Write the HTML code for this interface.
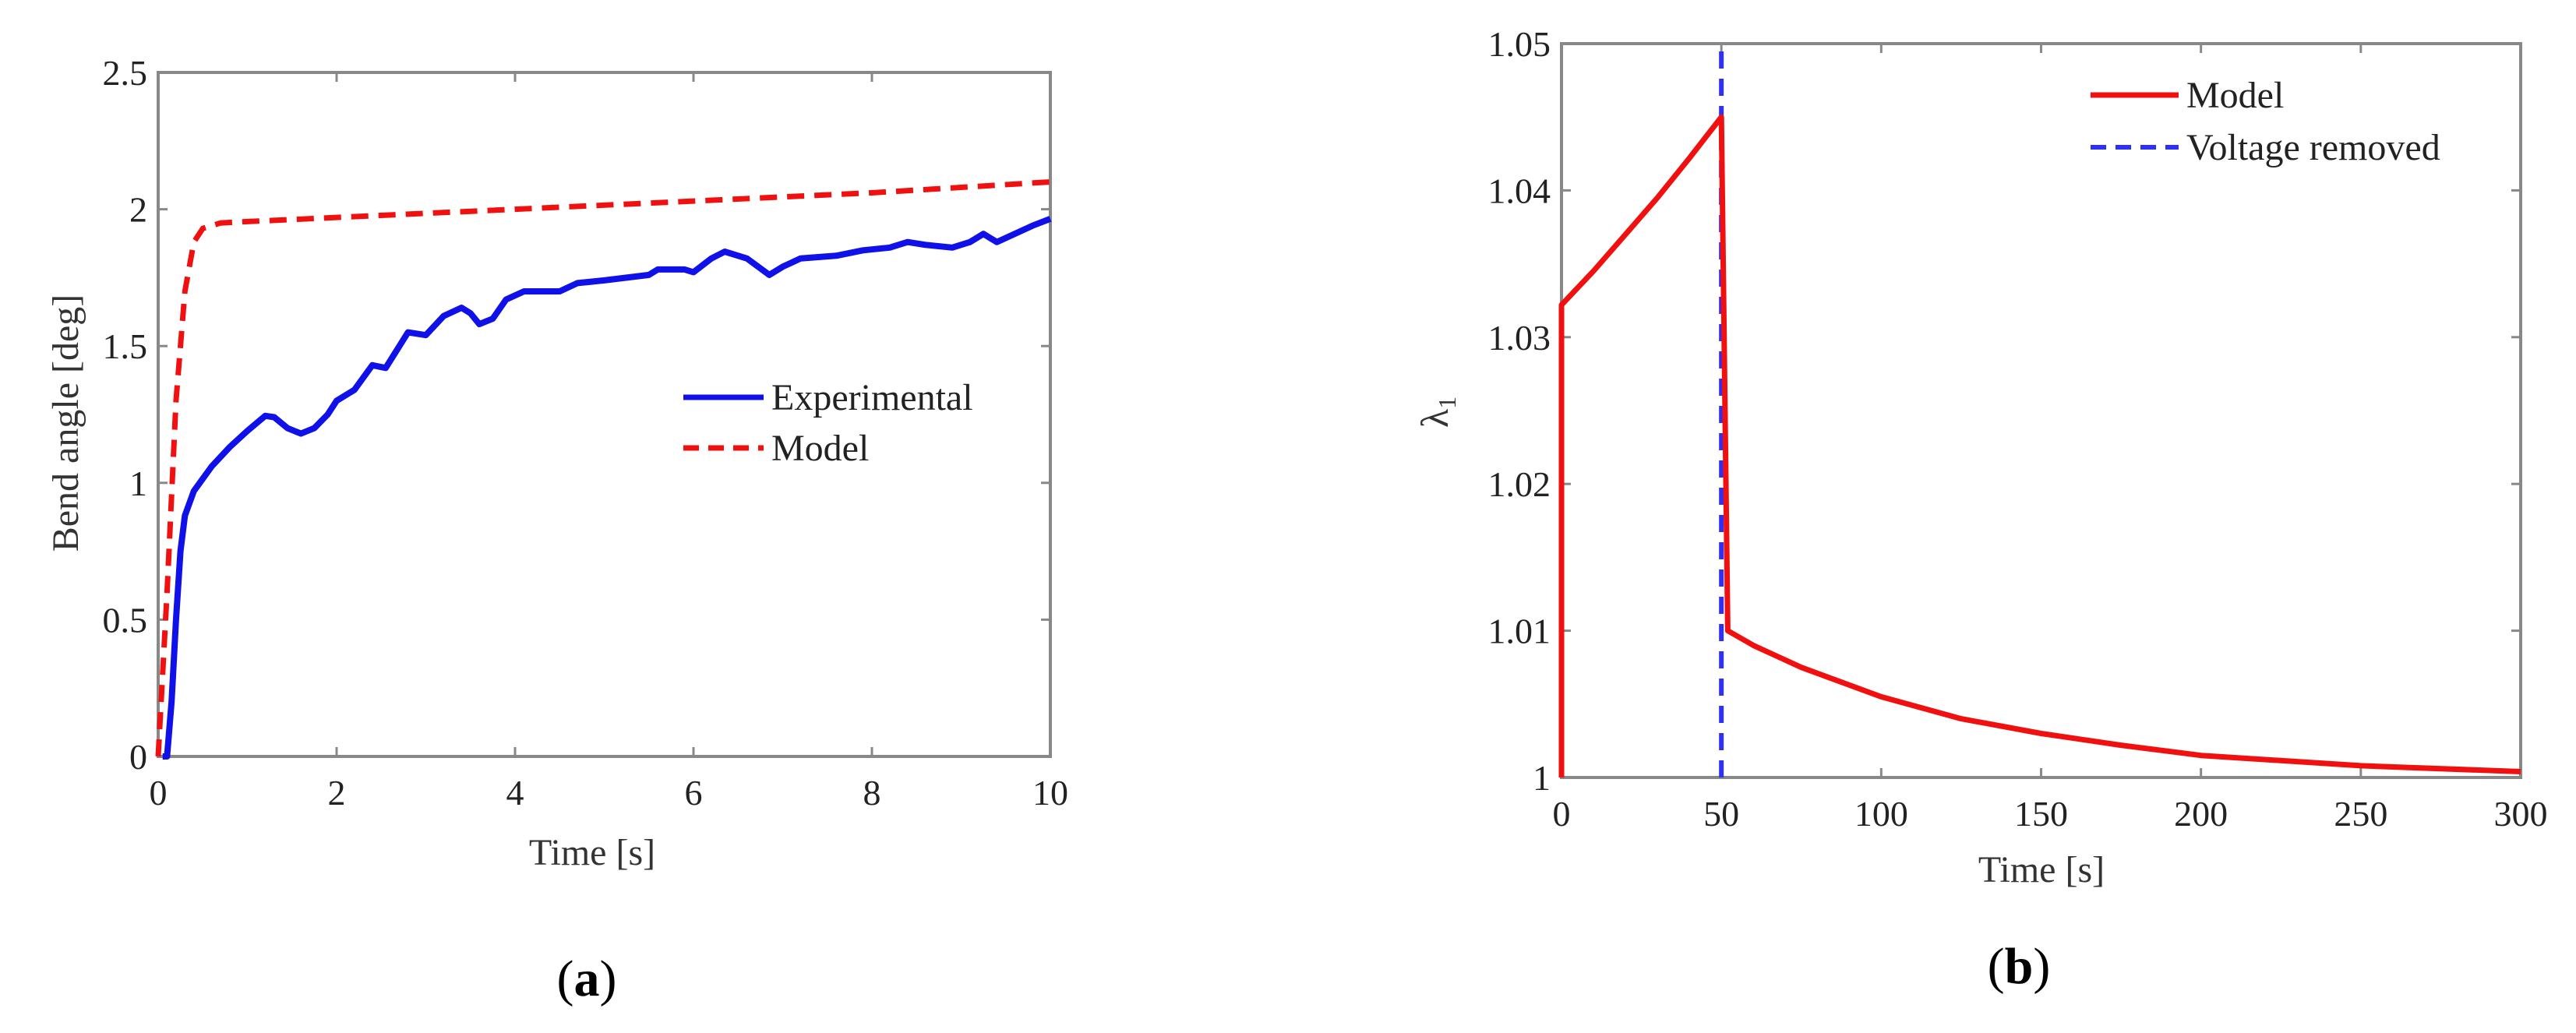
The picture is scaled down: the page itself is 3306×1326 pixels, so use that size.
<!DOCTYPE html>
<html><head><meta charset="utf-8"><style>
html,body{margin:0;padding:0;background:#fff;}
svg{display:block;font-family:"Liberation Serif",serif;}
</style></head><body>
<svg id="fig" width="3306" height="1326" viewBox="0 0 3306 1326"></svg>
<script>
const aExpX=[0.05,0.1,0.15,0.2,0.25,0.3,0.4,0.6,0.8,1.0,1.2,1.3,1.45,1.6,1.75,1.9,2.0,2.2,2.4,2.55,2.8,3.0,3.2,3.4,3.5,3.6,3.75,3.9,4.1,4.5,4.7,5.0,5.5,5.6,5.9,6.0,6.2,6.35,6.6,6.85,7.0,7.2,7.6,7.9,8.2,8.4,8.6,8.9,9.1,9.25,9.4,9.6,9.8,10];
const aExpY=[0,0,0.2,0.5,0.75,0.88,0.97,1.06,1.13,1.19,1.245,1.24,1.2,1.18,1.2,1.25,1.3,1.34,1.43,1.42,1.55,1.54,1.61,1.64,1.62,1.58,1.6,1.67,1.7,1.7,1.73,1.74,1.76,1.78,1.78,1.77,1.82,1.845,1.82,1.76,1.79,1.82,1.83,1.85,1.86,1.88,1.87,1.86,1.88,1.91,1.88,1.91,1.94,1.965];
const aModX=[0,0.1,0.2,0.3,0.4,0.5,0.7,1,2,4,6,8,10];
const aModY=[0,0.6,1.3,1.7,1.88,1.93,1.95,1.955,1.97,2.0,2.03,2.06,2.1];
const aXTicks=[0,2,4,6,8,10];
const aYTicks=[0,0.5,1,1.5,2,2.5];
const aYTickLabels=["0","0.5","1","1.5","2","2.5"];
const bModX=[0,0,10,20,30,40,50,52,60,75,100,125,150,175,200,250,300];
const bModY=[1,1.0322,1.0345,1.037,1.0395,1.0422,1.045,1.010,1.009,1.0075,1.0055,1.004,1.003,1.0022,1.0015,1.0008,1.0004];
const bVoltX=[50];
const bXTicks=[0,50,100,150,200,250,300];
const bYTicks=[1,1.01,1.02,1.03,1.04,1.05];
const bYTickLabels=["1","1.01","1.02","1.03","1.04","1.05"];

const NS="http://www.w3.org/2000/svg";
const svg=document.getElementById('fig');
function mk(tag,attrs,parent,txt){const e=document.createElementNS(NS,tag);for(const k in attrs)e.setAttribute(k,attrs[k]);if(txt!==undefined)e.textContent=txt;(parent||svg).appendChild(e);return e;}

function axes(cfg){
  const g=mk('g',{});
  
  
  const sx=v=>cfg.L+(v-cfg.x0)/(cfg.x1-cfg.x0)*(cfg.R-cfg.L);
  const sy=v=>cfg.B-(v-cfg.y0)/(cfg.y1-cfg.y0)*(cfg.B-cfg.T);
  const box=mk('rect',{x:cfg.L,y:cfg.T,width:cfg.R-cfg.L,height:cfg.B-cfg.T,fill:'none',stroke:'#888',"stroke-width":4},g);
  
  
  cfg.xt.forEach(v=>{
    const x=sx(v);
    mk('line',{x1:x,y1:cfg.B,x2:x,y2:cfg.B-12,stroke:'#888',"stroke-width":3},g);
    mk('line',{x1:x,y1:cfg.T,x2:x,y2:cfg.T+12,stroke:'#888',"stroke-width":3},g);
    const t=mk('text',{x:x,y:cfg.B+62,"font-size":46,"text-anchor":"middle",fill:'#222'},g,String(v));
    
    
  });
  cfg.yt.forEach((v,i)=>{
    const y=sy(v);
    mk('line',{x1:cfg.L,y1:y,x2:cfg.L+12,y2:y,stroke:'#888',"stroke-width":3},g);
    mk('line',{x1:cfg.R,y1:y,x2:cfg.R-12,y2:y,stroke:'#888',"stroke-width":3},g);
    const t=mk('text',{x:cfg.L-14,y:y+16,"font-size":46,"text-anchor":"end",fill:'#222'},g,cfg.ytl[i]);
    
    
  });
  return {g,sx,sy};
}
function path(xs,ys,sx,sy){return xs.map((v,i)=>(i?'L':'M')+sx(v).toFixed(1)+' '+sy(ys[i]).toFixed(1)).join(' ');}

// Panel a
const A=axes({name:'panel-a',L:203,R:1348,T:93,B:971,x0:0,x1:10,y0:0,y1:2.5,xt:aXTicks,yt:aYTicks,ytl:aYTickLabels});
let p=mk('path',{d:path(aModX,aModY,A.sx,A.sy),fill:'none',stroke:'#f01010',"stroke-width":7,"stroke-dasharray":"22 13"},A.g);


p=mk('path',{d:path(aExpX,aExpY,A.sx,A.sy),fill:'none',stroke:'#1010e8',"stroke-width":8,"stroke-linejoin":"round"},A.g);


let t=mk('text',{x:760,y:1110,"font-size":48,"text-anchor":"middle",fill:'#333'},A.g,'Time [s]');


t=mk('text',{x:0,y:0,"font-size":48,"text-anchor":"middle",fill:'#333',transform:'translate(100,543) rotate(-90)'},A.g,'Bend angle [deg]');


let lg=mk('g',{},A.g);


mk('line',{x1:877,y1:510,x2:980,y2:510,stroke:'#1010e8',"stroke-width":7},lg);
mk('text',{x:990,y:526,"font-size":48,fill:'#222'},lg,'Experimental');
mk('line',{x1:877,y1:575,x2:980,y2:575,stroke:'#f01010',"stroke-width":7,"stroke-dasharray":"20 12"},lg);
mk('text',{x:990,y:591,"font-size":48,fill:'#222'},lg,'Model');
t=mk('text',{x:753,y:1278,"font-size":66,"text-anchor":"middle",fill:'#000'},A.g,'');
mk('tspan',{},t,'(');mk('tspan',{"font-weight":"bold"},t,'a');mk('tspan',{},t,')');



// Panel b
const B=axes({name:'panel-b',L:2004,R:3235,T:56,B:998,x0:0,x1:300,y0:1,y1:1.05,xt:bXTicks,yt:bYTicks,ytl:bYTickLabels});
bVoltX.forEach(v=>{
  const l=mk('line',{x1:B.sx(v),y1:B.sy(1),x2:B.sx(v),y2:B.sy(1.05),stroke:'#3030f0',"stroke-width":6,"stroke-dasharray":"22 13"},B.g);
  
  
});
p=mk('path',{d:path(bModX,bModY,B.sx,B.sy),fill:'none',stroke:'#f01010',"stroke-width":7,"stroke-linejoin":"round"},B.g);


t=mk('text',{x:2620,y:1132,"font-size":48,"text-anchor":"middle",fill:'#333'},B.g,'Time [s]');


t=mk('text',{x:0,y:0,"font-size":50,"text-anchor":"middle",fill:'#333',transform:'translate(1858,529) rotate(-90)'},B.g,'');
mk('tspan',{},t,'λ');mk('tspan',{"font-size":32,dy:10},t,'1');


lg=mk('g',{},B.g);


mk('line',{x1:2683,y1:122,x2:2796,y2:122,stroke:'#f01010',"stroke-width":7},lg);
mk('text',{x:2806,y:138,"font-size":48,fill:'#222'},lg,'Model');
mk('line',{x1:2683,y1:189,x2:2796,y2:189,stroke:'#3030f0',"stroke-width":6,"stroke-dasharray":"20 12"},lg);
mk('text',{x:2806,y:205,"font-size":48,fill:'#222'},lg,'Voltage removed');
t=mk('text',{x:2591,y:1262,"font-size":66,"text-anchor":"middle",fill:'#000'},B.g,'');
mk('tspan',{},t,'(');mk('tspan',{"font-weight":"bold"},t,'b');mk('tspan',{},t,')');


</script>
</body></html>
